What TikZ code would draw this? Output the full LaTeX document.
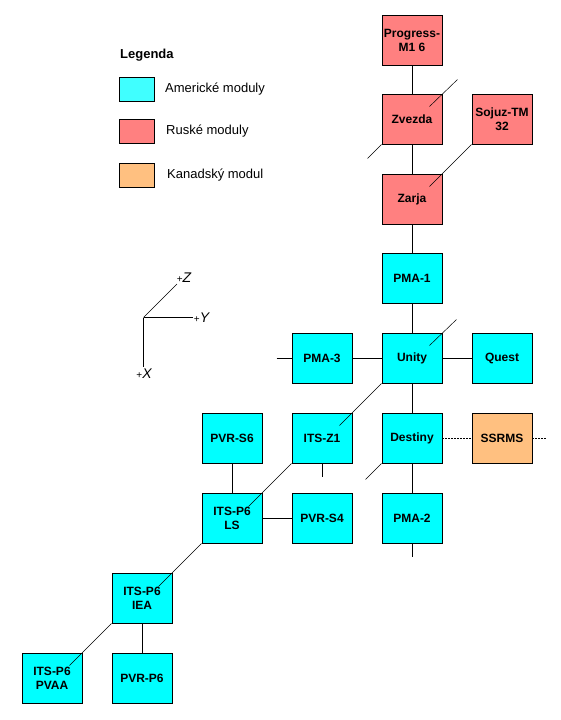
\documentclass[tikz,border=0pt]{standalone}
\usepackage{fontspec}
\setmainfont{Liberation Sans}
\usetikzlibrary{calc}
\definecolor{usc}{HTML}{00FFFF}
\definecolor{ruc}{HTML}{FF8080}
\definecolor{cac}{HTML}{FFC080}
\definecolor{legusc}{HTML}{40FFFF}
\tikzset{
  modbox/.style={draw, line width=0.9pt, minimum width=60pt, minimum height=50pt, inner sep=0pt, align=center, font=\bfseries\fontsize{12}{14}\selectfont},
  us/.style={modbox, fill=usc},
  ru/.style={modbox, fill=ruc},
  ca/.style={modbox, fill=cac},
  link/.style={line width=0.9pt},
  diag/.style={line width=0.5pt},
  dotlink/.style={line width=0.9pt, dash pattern=on 1.5pt off 1.5pt},
  legbox/.style={draw, line width=0.9pt, minimum width=35pt, minimum height=24pt, inner sep=0pt},
  legtext/.style={anchor=west, inner sep=0pt, font=\fontsize{13}{15}\selectfont},
  axis/.style={line width=0.9pt},
  axlab/.style={inner sep=0pt, font=\fontsize{14}{16}\selectfont\itshape}
}
\begin{document}
\begin{tikzpicture}[x=1pt, y=-1pt]
\useasboundingbox (0,0) rectangle (560,720);
% modules
\node[ru] (progress) at (412,40) {Progress-\\M1 6};
\node[ru] (zvezda) at (412,119) {Zvezda};
\node[ru] (sojuz) at (502,119) {Sojuz-TM\\32};
\node[ru] (zarja) at (412,199) {Zarja};
\node[us] (pma1) at (412,278) {PMA-1};
\node[us] (pma3) at (322,358) {PMA-3};
\node[us] (unity) at (412,358) {Unity};
\node[us] (quest) at (502,358) {Quest};
\node[us] (pvrs6) at (232,438) {PVR-S6};
\node[us] (itsz1) at (322,438) {ITS-Z1};
\node[us] (destiny) at (412,438) {Destiny};
\node[ca] (ssrms) at (502,438) {SSRMS};
\node[us] (itsls) at (232,518) {ITS-P6\\LS};
\node[us] (pvrs4) at (322,518) {PVR-S4};
\node[us] (pma2) at (412,518) {PMA-2};
\node[us] (itsiea) at (142,598) {ITS-P6\\IEA};
\node[us] (pvaa) at (52,678) {ITS-P6\\PVAA};
\node[us] (pvrp6) at (142,678) {PVR-P6};
% free ends
\coordinate (zvin) at ($(zvezda.north east)+(-13,13)$);
\coordinate (zvout) at ($(zvezda.north east)+(15,-14)$);
\coordinate (zvsw) at ($(zvezda.south west)+(-14,14)$);
\coordinate (unin) at ($(unity.north east)+(-13,13)$);
\coordinate (unout) at ($(unity.north east)+(14,-13)$);
\coordinate (desw) at ($(destiny.south west)+(-16,16)$);
\coordinate (z1stub) at ($(itsz1.south)+(0,14)$);
\coordinate (pma2stub) at ($(pma2.south)+(0,14)$);
\coordinate (pma3stub) at ($(pma3.west)+(-15,0)$);
\coordinate (ssstub) at ($(ssrms.east)+(15,0)$);
% vertical / horizontal links
\draw[link] (progress) -- (zvezda);
\draw[link] (zvezda) -- (zarja);
\draw[link] (zarja) -- (pma1);
\draw[link] (pma1) -- (unity);
\draw[link] (unity) -- (destiny);
\draw[link] (destiny) -- (pma2);
\draw[link] (pma2.south) -- (pma2stub);
\draw[link] (pma3stub) -- (pma3.west);
\draw[link] (pma3) -- (unity);
\draw[link] (unity) -- (quest);
\draw[link] (pvrs6) -- (itsls);
\draw[link] (itsz1.south) -- (z1stub);
\draw[link] (itsls) -- (pvrs4);
\draw[link] (itsiea) -- (pvrp6);
\draw[dotlink] (destiny) -- (ssrms);
\draw[dotlink] (ssrms.east) -- (ssstub);
% diagonal links
\draw[diag] (zvin) -- (zvout);
\draw[diag] (zvezda.south west) -- (zvsw);
\draw[diag, shorten >=-18.4pt] (sojuz.south west) -- (zarja.north east);
\draw[diag] (unin) -- (unout);
\draw[diag, shorten >=-18.4pt] (unity.south west) -- (itsz1.north east);
\draw[diag] (destiny.south west) -- (desw);
\draw[diag, shorten >=-19.8pt] (itsz1.south west) -- (itsls.north east);
\draw[diag, shorten >=-19.8pt] (itsls.south west) -- (itsiea.north east);
\draw[diag, shorten >=-18.4pt] (itsiea.south west) -- (pvaa.north east);
% legend
\node[anchor=west, inner sep=0pt, font=\bfseries\fontsize{13}{15}\selectfont] (legtitle) at (120,55) {Legenda};
\node[legbox, fill=legusc] (legus) at (136.5,89) {};
\node[legbox, fill=ruc] (legru) at (136.5,131) {};
\node[legbox, fill=cac] (legca) at (136.5,175) {};
\node[legtext] (legust) at (165,89) {Americké moduly};
\node[legtext] (legrut) at (166,131) {Ruské moduly};
\node[legtext] (legcat) at (167,175) {Kanadský modul};
% axes
\coordinate (ax0) at (143.5,317.5);
\coordinate (axz) at (177,284);
\coordinate (axy) at (192.5,317.5);
\coordinate (axx) at (143.5,367);
\draw[diag] (ax0) -- (axz);
\draw[axis] (ax0) -- (axy);
\draw[axis] (ax0) -- (axx);
\node[axlab] (labz) at (184,278) {{\fontsize{10}{10}\selectfont\upshape+}Z};
\node[axlab] (laby) at (201.5,317.5) {{\fontsize{10}{10}\selectfont\upshape+}Y};
\node[axlab] (labx) at (144,374) {{\fontsize{10}{10}\selectfont\upshape+}X};
\end{tikzpicture}
\end{document}
